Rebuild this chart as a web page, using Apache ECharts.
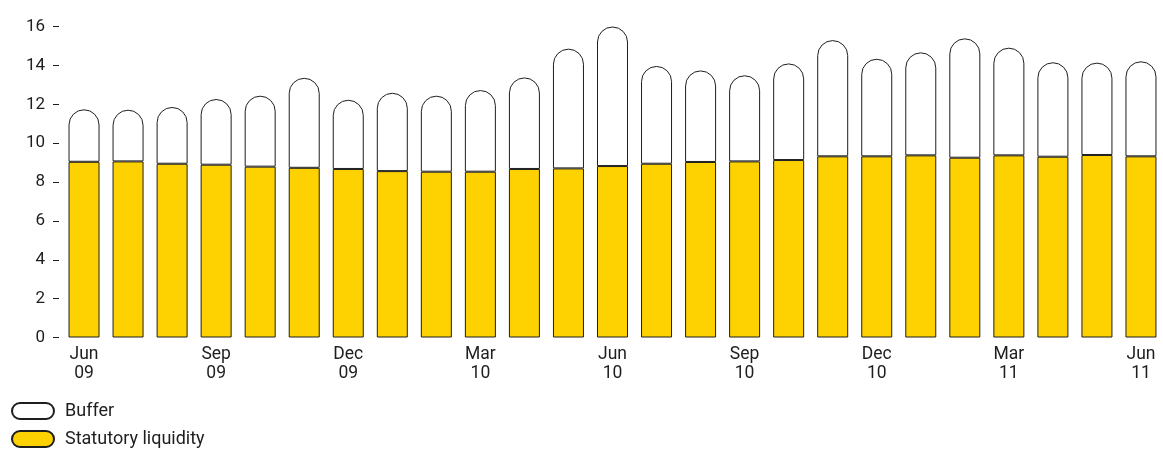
<!DOCTYPE html>
<html>
<head>
<meta charset="utf-8">
<script src="https://cdn.jsdelivr.net/npm/echarts@6/dist/echarts.min.js"></script>
<style>
  html, body { margin: 0; padding: 0; background: #fff; }
  #chart { width: 1163px; height: 450px; }
</style>
</head>
<body>
<div id="chart"></div>
<script>
// Monthly periods, June 2009 to June 2011
const months = ['Jun', 'Jul', 'Aug', 'Sep', 'Oct', 'Nov', 'Dec', 'Jan', 'Feb', 'Mar', 'Apr', 'May',
                'Jun', 'Jul', 'Aug', 'Sep', 'Oct', 'Nov', 'Dec', 'Jan', 'Feb', 'Mar', 'Apr', 'May', 'Jun'];
const years = ['09', '09', '09', '09', '09', '09', '09', '10', '10', '10', '10', '10',
               '10', '10', '10', '10', '10', '10', '10', '11', '11', '11', '11', '11', '11'];
const categories = months.map((m, i) => m + '\n' + years[i]);

// Statutory liquidity holdings
const statutory = [9.04, 9.06, 8.94, 8.89, 8.79, 8.73, 8.67, 8.56, 8.53, 8.53, 8.67, 8.70,
                   8.82, 8.94, 9.03, 9.06, 9.13, 9.32, 9.32, 9.37, 9.25, 9.37, 9.30, 9.39, 9.32];
// Total holdings (statutory + buffer)
const total = [11.74, 11.72, 11.86, 12.27, 12.44, 13.36, 12.23, 12.59, 12.44, 12.73, 13.38, 14.86,
               16.00, 13.97, 13.74, 13.49, 14.10, 15.30, 14.34, 14.67, 15.39, 14.91, 14.16, 14.14, 14.21];
const buffer = total.map((t, i) => +(t - statutory[i]).toFixed(2));

const yTicks = { min: 0, max: 16, step: 2 };

const ink = '#1e1e1e';
const yellow = '#FED200';
const font = 'Roboto';

const chart = echarts.init(document.getElementById('chart'), null, { renderer: 'canvas' });
chart.setOption({
  animation: false,
  textStyle: { fontFamily: font, color: ink },
  grid: { left: 62, top: 26.5, width: 1104, height: 311, containLabel: false },
  legend: {
    orient: 'vertical',
    left: 11,
    top: 402,
    padding: 0,
    itemWidth: 42,
    itemHeight: 16,
    itemGap: 10,
    icon: 'path://M8,0 H34 A8,8 0 0 1 34,16 H8 A8,8 0 0 1 8,0 Z',
    data: ['Buffer', 'Statutory liquidity'],
    textStyle: { fontFamily: font, fontSize: 18, color: ink, padding: [0, 0, 0, 6] }
  },
  xAxis: {
    type: 'category',
    data: categories,
    axisLine: { show: false },
    axisTick: { show: false },
    axisLabel: {
      interval: 2,
      margin: 8,
      fontFamily: font,
      fontSize: 17.5,
      lineHeight: 19,
      color: ink,
      align: 'center'
    }
  },
  yAxis: {
    type: 'value',
    min: yTicks.min,
    max: yTicks.max,
    interval: yTicks.step,
    offset: 3,
    splitLine: { show: false },
    axisLine: { show: false },
    axisTick: { show: true, length: 6, lineStyle: { color: ink, width: 1 } },
    axisLabel: { margin: 14, fontFamily: font, fontSize: 17, color: ink }
  },
  series: [
    {
      name: 'Statutory liquidity',
      type: 'bar',
      stack: 'liq',
      barWidth: 31,
      data: statutory,
      itemStyle: { color: yellow, borderColor: ink, borderWidth: 1 }
    },
    {
      name: 'Buffer',
      type: 'bar',
      stack: 'liq',
      barWidth: 31,
      data: buffer,
      itemStyle: { color: '#ffffff', borderColor: ink, borderWidth: 1, borderRadius: [15.5, 15.5, 0, 0] }
    }
  ]
});
</script>
</body>
</html>
